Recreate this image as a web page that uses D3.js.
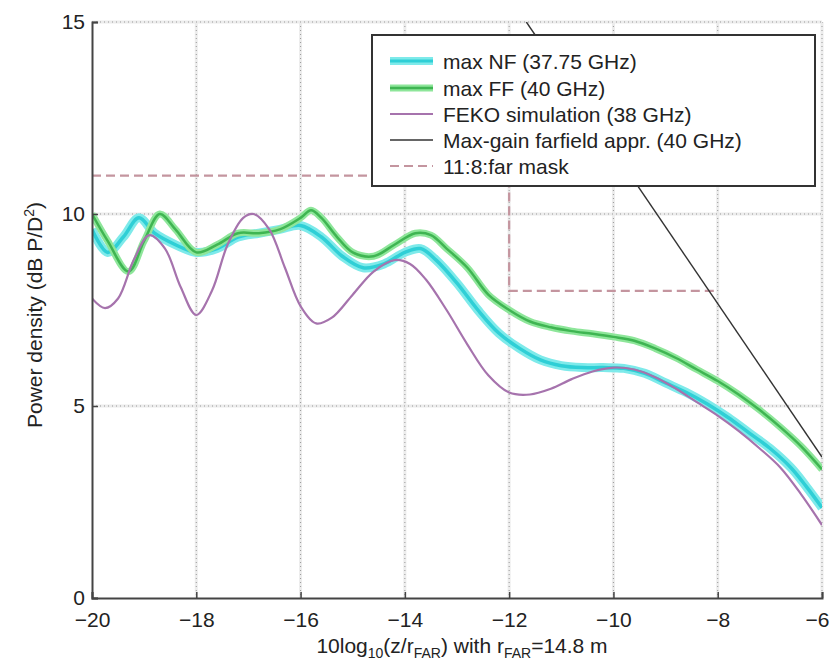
<!DOCTYPE html>
<html><head><meta charset="utf-8">
<script src="https://cdn.jsdelivr.net/npm/d3@7"></script>
<style>
body{margin:0;background:#fff;}
text{font-family:"Liberation Sans",Arial,sans-serif;fill:#222;}
</style></head>
<body><svg id="c" width="830" height="664"></svg>
<script>
// ---- data ----
const xTicks = [-20,-18,-16,-14,-12,-10,-8,-6];
const yTicks = [0,5,10,15];
const nfX = [-20,-19.7,-19.4,-19.1,-18.8,-18.4,-18,-17.6,-17.2,-16.8,-16.4,-16,-15.6,-15.2,-14.8,-14.4,-14,-13.7,-13.4,-13,-12.6,-12.2,-11.8,-11.4,-11,-10.6,-10.2,-9.8,-9.4,-9,-8.6,-8.2,-7.8,-7.4,-7,-6.6,-6.3,-6];
const nfY = [9.6,9.0,9.4,9.9,9.5,9.2,9.0,9.1,9.4,9.5,9.6,9.7,9.4,8.9,8.6,8.7,9.0,9.1,8.8,8.2,7.5,6.9,6.5,6.2,6.05,6.0,6.0,5.98,5.85,5.6,5.35,5.05,4.7,4.3,3.9,3.4,2.9,2.35];
const ffX = [-20,-19.7,-19.3,-19,-18.7,-18.4,-18,-17.6,-17.2,-16.8,-16.4,-16,-15.8,-15.6,-15.3,-15,-14.6,-14.2,-13.8,-13.5,-13.2,-12.8,-12.4,-12,-11.6,-11.2,-10.8,-10.4,-10,-9.6,-9.2,-8.8,-8.4,-8,-7.6,-7.2,-6.8,-6.4,-6];
const ffY = [10.0,9.3,8.5,9.3,10.0,9.6,9.0,9.2,9.5,9.5,9.6,9.9,10.1,9.9,9.4,9.0,8.9,9.2,9.5,9.45,9.1,8.6,7.9,7.5,7.2,7.05,6.95,6.88,6.8,6.7,6.5,6.25,5.95,5.65,5.3,4.9,4.45,3.95,3.35];
const fekoX = [-20,-19.75,-19.5,-19.2,-18.9,-18.6,-18.3,-18,-17.7,-17.4,-17.1,-16.9,-16.6,-16.3,-16,-15.7,-15.4,-15,-14.6,-14.2,-13.9,-13.6,-13.2,-12.8,-12.4,-12,-11.6,-11.2,-10.8,-10.4,-10,-9.6,-9.2,-8.8,-8.4,-8,-7.6,-7.2,-6.8,-6.4,-6];
const fekoY = [7.8,7.55,7.8,8.8,9.45,9.1,8.1,7.37,8.0,9.2,9.9,10.0,9.6,8.6,7.6,7.15,7.3,7.9,8.5,8.8,8.7,8.3,7.5,6.6,5.8,5.35,5.3,5.45,5.7,5.9,6.0,5.95,5.75,5.45,5.1,4.75,4.35,3.9,3.4,2.7,1.9];
const farX = [-11.67,-6];
const farY = [15.0,3.67];
const maskX = [-20,-12,-12,-8];
const maskY = [11,11,8,8];
const legendLabels = ["max NF (37.75 GHz)","max FF (40 GHz)","FEKO simulation (38 GHz)","Max-gain farfield appr. (40 GHz)","11:8:far mask"];

// ---- layout ----
const svg = d3.select("#c");
const L=92, R=822, T=22, B=598;
const x = d3.scaleLinear().domain([-20,-6]).range([L,R]);
const y = d3.scaleLinear().domain([0,15]).range([B,T]);

svg.append("defs").append("clipPath").attr("id","clip")
  .append("rect").attr("x",L).attr("y",T).attr("width",R-L).attr("height",B-T);

// grid
const g = svg.append("g");
xTicks.slice(1).forEach(v=>{
  g.append("line").attr("x1",x(v)).attr("x2",x(v)).attr("y1",T).attr("y2",B)
   .attr("stroke","#ececec").attr("stroke-width",3);
  g.append("line").attr("x1",x(v)).attr("x2",x(v)).attr("y1",T).attr("y2",B)
   .attr("stroke","#999").attr("stroke-width",1).attr("stroke-dasharray","1,3");
});
yTicks.slice(1).forEach(v=>{
  g.append("line").attr("x1",L).attr("x2",R).attr("y1",y(v)).attr("y2",y(v))
   .attr("stroke","#ececec").attr("stroke-width",3);
  g.append("line").attr("x1",L).attr("x2",R).attr("y1",y(v)).attr("y2",y(v))
   .attr("stroke","#999").attr("stroke-width",1).attr("stroke-dasharray","1,3");
});

const plot = svg.append("g").attr("clip-path","url(#clip)");
const lineGen = (xs,ys,curve)=>d3.line().x((d,i)=>x(xs[i])).y((d,i)=>y(ys[i])).curve(curve||d3.curveCatmullRom.alpha(0.5))(xs);

// NF cyan band
plot.append("path").attr("d",lineGen(nfX,nfY)).attr("fill","none").attr("stroke","#7eeaea").attr("stroke-width",9).attr("stroke-linejoin","round");
plot.append("path").attr("d",lineGen(nfX,nfY)).attr("fill","none").attr("stroke","#2fcfd6").attr("stroke-width",3.5);
// FF green band
plot.append("path").attr("d",lineGen(ffX,ffY)).attr("fill","none").attr("stroke","#8ee69a").attr("stroke-width",7).attr("stroke-linejoin","round");
plot.append("path").attr("d",lineGen(ffX,ffY)).attr("fill","none").attr("stroke","#3fb552").attr("stroke-width",2.5);
// FEKO
plot.append("path").attr("d",lineGen(fekoX,fekoY)).attr("fill","none").attr("stroke","#a673ad").attr("stroke-width",2.2);
// mask
plot.append("path").attr("d",lineGen(maskX,maskY,d3.curveLinear)).attr("fill","none").attr("stroke","#c4959f").attr("stroke-width",2.2).attr("stroke-dasharray","9,5");
// far field
plot.append("path").attr("d",lineGen(farX,farY,d3.curveLinear)).attr("fill","none").attr("stroke","#333").attr("stroke-width",1.4);

// axes
const xa = svg.append("g").attr("transform",`translate(0,${B})`)
  .call(d3.axisBottom(x).tickValues(xTicks).tickSize(-6).tickPadding(10).tickFormat(d=>String(d).replace("-","\u2212")));
const ya = svg.append("g").attr("transform",`translate(${L},0)`)
  .call(d3.axisLeft(y).tickValues(yTicks).tickSize(-6).tickPadding(7));
[xa,ya].forEach(a=>{
  a.select(".domain").attr("stroke","#444").attr("stroke-width",2);
  a.selectAll(".tick line").attr("stroke","#444").attr("stroke-width",1.5);
  a.selectAll("text").attr("font-size",21).attr("fill","#222").attr("font-family","Liberation Sans, Arial, sans-serif");
});
xa.selectAll(".tick text").attr("dy","0.9em");
xa.selectAll(".tick text").filter(d=>d===-6).attr("text-anchor","end").attr("dx",7);

// axis labels
const xl = svg.append("text").attr("x",462).attr("y",653).attr("text-anchor","middle").attr("font-size",21);
xl.append("tspan").text("10log");
xl.append("tspan").attr("font-size",14).attr("dy",5).text("10");
xl.append("tspan").attr("dy",-5).text("(z/r");
xl.append("tspan").attr("font-size",14).attr("dy",5).text("FAR");
xl.append("tspan").attr("dy",-5).text(") with r");
xl.append("tspan").attr("font-size",14).attr("dy",5).text("FAR");
xl.append("tspan").attr("dy",-5).text("=14.8 m");

const yl = svg.append("text").attr("transform","translate(42,315) rotate(-90)").attr("text-anchor","middle").attr("font-size",21);
yl.append("tspan").text("Power density (dB P/D");
yl.append("tspan").attr("font-size",14).attr("dy",-8).text("2");
yl.append("tspan").attr("dy",8).text(")");

// legend
const lg = svg.append("g");
lg.append("rect").attr("x",372).attr("y",35).attr("width",443).attr("height",151)
  .attr("fill","#fff").attr("stroke","#333").attr("stroke-width",2);
const rows = [61,88,114,140,166];
const sty = [
  [{c:"#7eeaea",w:8},{c:"#2fcfd6",w:3}],
  [{c:"#8ee69a",w:7},{c:"#3fb552",w:2.5}],
  [{c:"#a673ad",w:2.2}],
  [{c:"#333",w:1.4}],
  [{c:"#c4959f",w:2.2,d:"9,5"}]
];
legendLabels.forEach((t,i)=>{
  sty[i].forEach(s=>{
    lg.append("line").attr("x1",390).attr("x2",433).attr("y1",rows[i]).attr("y2",rows[i])
      .attr("stroke",s.c).attr("stroke-width",s.w).attr("stroke-dasharray",s.d||null);
  });
  lg.append("text").attr("x",443).attr("y",rows[i]).attr("dy","0.36em").attr("font-size",21).text(t);
});
</script></body></html>
